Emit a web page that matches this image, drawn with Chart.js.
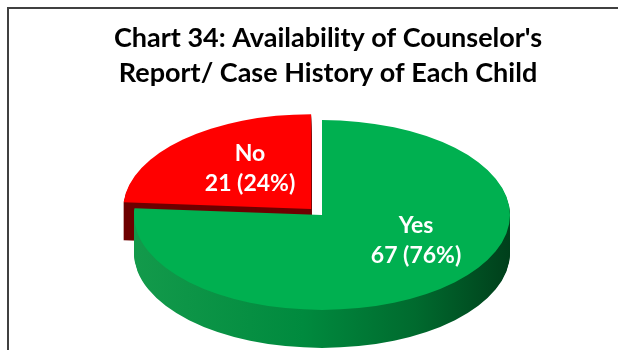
<!DOCTYPE html>
<html>
<head>
<meta charset="utf-8">
<script src="https://cdn.jsdelivr.net/npm/chart.js@4.4.1/dist/chart.umd.min.js"></script>
<style>
  html, body { margin: 0; padding: 0; background: #fff; }
  #wrap { position: relative; width: 618px; height: 350px; }
</style>
</head>
<body>
<div id="wrap"><canvas id="counselorChart"></canvas></div>
<script>
const categories = ['Yes', 'No'];
const childCounts = [67, 21];
const titleLines = ["Chart 34: Availability of Counselor's", 'Report/ Case History of Each Child'];

const palette = {
    yes: '#00b050',
    no: '#ff0000',
    noSide: '#6e0000',
    frame: '#404040',
    title: '#000000',
    label: '#ffffff',
};

// flat pie squashed into an ellipse with a stacked wall underneath
const pie3d = {
    id: 'pie3d',
    beforeDraw(chart, args, opts) {
        const ctx = chart.ctx;
        ctx.save();
        ctx.strokeStyle = palette.frame;
        ctx.lineWidth = 2;
        ctx.beginPath();
        ctx.moveTo(8, chart.height);
        ctx.lineTo(8, 8);
        ctx.lineTo(chart.width, 8);
        ctx.stroke();
        ctx.restore();
    },
    beforeDatasetsDraw(chart, args, opts) {
        const ctx = chart.ctx;
        const arcs = chart.getDatasetMeta(0).data;
        const total = childCounts.reduce((a, b) => a + b, 0);
        const cx = arcs[0].x + opts.shiftX;
        const cy = arcs[0].y;
        const tilt = opts.tilt;
        const r = arcs[0].outerRadius;

        const wedge = (arc, dy) => {
            const mid = (arc.startAngle + arc.endAngle) / 2;
            const off = (arc.options.offset || 0) / 4;
            const x = cx + Math.cos(mid) * off;
            const y = cy + Math.sin(mid) * off + dy;
            ctx.beginPath();
            ctx.moveTo(x, y);
            ctx.arc(x, y, arc.outerRadius, arc.startAngle, arc.endAngle);
            ctx.closePath();
        };

        const wall = ctx.createLinearGradient(cx - r, 0, cx + r, 0);
        wall.addColorStop(0, '#139a4b');
        wall.addColorStop(0.45, '#008a3e');
        wall.addColorStop(0.75, '#006a2e');
        wall.addColorStop(1, '#003f1b');
        const wallFill = [wall, palette.noSide];

        // back slice first, the front slice's wall overlaps it
        [1, 0].forEach(i => {
            const arc = arcs[i];
            ctx.save();
            ctx.translate(0, cy);
            ctx.scale(1, tilt);
            ctx.translate(0, -cy);
            ctx.fillStyle = wallFill[i];
            for (let d = opts.depth; d > 0; d--) {
                wedge(arc, d / tilt);
                ctx.fill();
            }
            ctx.fillStyle = arc.options.backgroundColor;
            wedge(arc, 0);
            ctx.fill();
            ctx.restore();
        });

        // value labels
        ctx.save();
        ctx.fillStyle = palette.label;
        ctx.font = 'bold 23px Lato';
        ctx.textAlign = 'center';
        ctx.textBaseline = 'middle';
        arcs.forEach((arc, i) => {
            const mid = (arc.startAngle + arc.endAngle) / 2;
            const off = (arc.options.offset || 0) / 4;
            const dist = off + arc.outerRadius / 2;
            const x = cx + Math.cos(mid) * dist + opts.labelShift[i][0];
            const y = cy + Math.sin(mid) * dist * tilt + opts.labelShift[i][1];
            const pct = Math.round(childCounts[i] / total * 100);
            ctx.fillText(categories[i], x, y - 15);
            ctx.fillText(childCounts[i] + ' (' + pct + '%)', x, y + 15);
        });
        ctx.restore();
        return false;
    }
};

const ctx = document.getElementById('counselorChart').getContext('2d');
new Chart(ctx, {
    type: 'pie',
    data: {
        labels: categories,
        datasets: [{
            data: childCounts,
            backgroundColor: [palette.yes, palette.no],
            borderWidth: 0,
            offset: [0, 64],
            radius: 188,
        }]
    },
    options: {
        responsive: true,
        maintainAspectRatio: false,
        animation: false,
        layout: { padding: { left: 38, right: 0, top: 0, bottom: 11 } },
        plugins: {
            legend: { display: false },
            tooltip: { enabled: false },
            title: {
                display: true,
                text: titleLines,
                color: palette.title,
                font: { family: 'Lato', size: 27, weight: 'bold', lineHeight: '35px' },
                padding: { top: 21, bottom: 0 }
            },
            pie3d: {
                tilt: 0.505,
                depth: 38,
                shiftX: -6,
                labelShift: [[30, -9], [3, -6]]
            }
        }
    },
    plugins: [pie3d]
});
</script>
</body>
</html>
